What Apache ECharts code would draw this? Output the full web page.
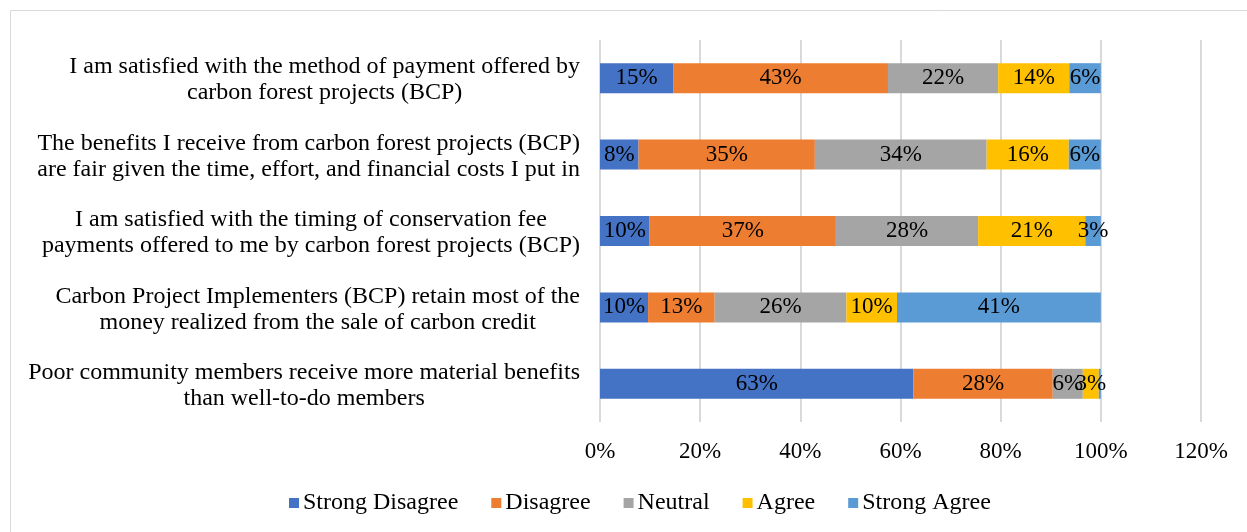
<!DOCTYPE html>
<html>
<head>
<meta charset="utf-8">
<script src="https://cdn.jsdelivr.net/npm/echarts@6/dist/echarts.min.js"></script>
<style>
  html, body { margin: 0; padding: 0; background: #fff; }
  #chart { width: 1247px; height: 532px; }
</style>
</head>
<body>
<div id="chart"></div>
<script>
  // statements, top to bottom
  var statements = [
    "I am satisfied with the method of payment offered by\ncarbon forest projects (BCP)",
    "The benefits I receive from carbon forest projects (BCP)\nare fair given the time, effort, and financial costs I put in",
    "I am satisfied with the timing of conservation fee\npayments offered to me by carbon forest projects (BCP)",
    "Carbon Project Implementers (BCP) retain most of the\nmoney realized from the sale of carbon credit",
    "Poor community members receive more material benefits\nthan well-to-do members"
  ];
  var seriesNames = ["Strong Disagree", "Disagree", "Neutral", "Agree", "Strong Agree"];
  var seriesColors = ["#4472C4", "#ED7D31", "#A5A5A5", "#FFC000", "#5B9BD5"];

  // percent of respondents, same order as statements
  var strongDisagree = [14.6, 7.7, 9.9, 9.6, 62.6];
  var disagree       = [42.9, 35.2, 37.2, 13.3, 27.8];
  var neutral        = [22.0, 34.3, 28.4, 26.3, 6.0];
  var agree          = [14.2, 16.4, 21.4, 10.1, 3.2];
  var strongAgree    = [6.3, 6.4, 3.1, 40.7, 0.4];

  var xTicks = [0, 20, 40, 60, 80, 100, 120];

  var font = "'Liberation Serif', 'Times New Roman', serif";
  var allValues = [strongDisagree, disagree, neutral, agree, strongAgree];

  var series = seriesNames.map(function (name, i) {
    return {
      name: name,
      type: 'bar',
      stack: 'total',
      barWidth: 30,
      data: allValues[i],
      itemStyle: { color: seriesColors[i] },
      label: {
        show: true,
        position: 'inside',
        color: '#000',
        fontFamily: font,
        fontSize: 23,
        formatter: function (p) {
          return p.value < 1 ? '' : Math.round(p.value) + '%';
        }
      }
    };
  });

  var myChart = echarts.init(document.getElementById('chart'));
  myChart.setOption({
    animation: false,
    textStyle: { fontFamily: font },
    graphic: [{
      type: 'rect',
      shape: { x: 10.5, y: 10.5, width: 1240, height: 525 },
      style: { fill: 'none', stroke: '#D9D9D9', lineWidth: 1 }
    }],
    grid: {
      left: 600,
      top: 40,
      width: 601,
      height: 382
    },
    legend: {
      top: 486,
      left: 284,
      itemWidth: 10,
      itemHeight: 10,
      itemGap: 33,
      icon: 'rect',
      textStyle: { fontFamily: font, fontSize: 24, color: '#000', padding: [0, 0, 0, -1] },
      data: seriesNames
    },
    xAxis: {
      type: 'value',
      min: xTicks[0],
      max: xTicks[xTicks.length - 1],
      interval: 20,
      axisLine: { show: false },
      axisTick: { show: false },
      splitLine: { lineStyle: { color: '#D9D9D9', width: 2 } },
      axisLabel: {
        margin: 18,
        color: '#000',
        fontFamily: font,
        fontSize: 23,
        formatter: '{value}%'
      }
    },
    yAxis: {
      type: 'category',
      inverse: true,
      data: statements,
      axisLine: { show: false },
      axisTick: { show: false },
      axisLabel: {
        margin: 20,
        align: 'right',
        color: '#000',
        fontFamily: font,
        fontSize: 24,
        lineHeight: 26,
        padding: [4, 0, 0, 0],
        formatter: function (v) {
          return v.split('\n').map(function (l) { return '{c|' + l + '}'; }).join('\n');
        },
        rich: {
          c: { align: 'center', fontFamily: font, fontSize: 24, lineHeight: 26, color: '#000' }
        }
      }
    },
    series: series
  });
</script>
</body>
</html>
